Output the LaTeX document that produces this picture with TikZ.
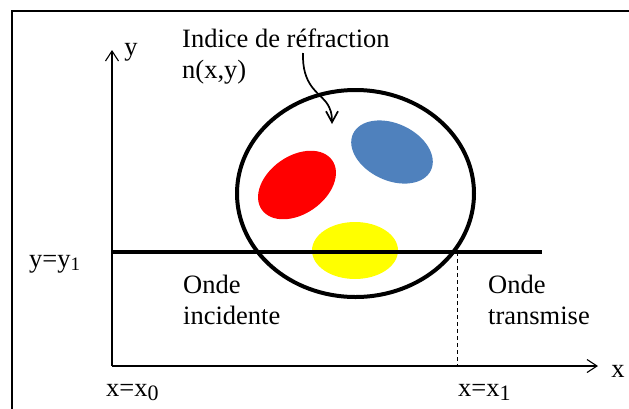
\documentclass[tikz,border=0pt]{standalone}
\usepackage{fontspec}
\setmainfont{Liberation Serif}
\usetikzlibrary{arrows.meta,shapes.geometric}
\definecolor{cred}{HTML}{FF0000}
\definecolor{cblue}{HTML}{4F81BD}
\definecolor{cyellow}{HTML}{FFFF00}
\tikzset{
  lbl/.style={inner sep=0pt, font=\fontsize{26.5}{31}\selectfont, align=left},
  axis/.style={-{Straight Barb[length=10pt, width=13pt]}, line width=1.1pt},
  blob/.style={draw=none, ellipse, inner sep=0pt},
  wave/.style={line width=4pt},
  curv/.style={-{Straight Barb[length=11pt, width=12pt]}, line width=1.7pt},
}
\newcommand{\lowidx}[1]{\raisebox{-0.3ex}{\fontsize{19}{19}\selectfont #1}}
\newcommand{\lowidxx}[1]{\raisebox{-0.4ex}{\fontsize{22}{22}\selectfont #1}}

\begin{document}
\begin{tikzpicture}[x=1pt, y=-1pt]
\clip (0,0) rectangle (629,408);
% frame
\draw[line width=1.8pt] (12,11) rectangle (660,440);

\coordinate (O) at (112,366);
\coordinate (ytip) at (112,50);
\coordinate (xtip) at (598,366);
\coordinate (w0) at (112,252);
\coordinate (w1) at (542,252);
\coordinate (x1top) at (457,252);
\coordinate (x1bot) at (457,366);

% inhomogeneities
\node[blob, fill=cred, minimum width=86pt, minimum height=58pt, rotate=35] (red) at (297,185) {};
\node[blob, fill=cblue, minimum width=86pt, minimum height=57pt, rotate=-25] (blue) at (392,152) {};
\node[blob, fill=cyellow, minimum width=86pt, minimum height=57pt] (yellow) at (355,250.5) {};
\node[draw, ellipse, line width=4pt, inner sep=0pt, minimum width=237pt, minimum height=207pt] (milieu) at (355.5,193.5) {};

% axes
\draw[axis] (O) -- (ytip);
\draw[axis] (O) -- (xtip);
\draw[wave] (w0) -- (w1);
\draw[dashed, line width=0.9pt, dash pattern=on 4pt off 3pt] (x1top) -- (x1bot);

\node[lbl] (ylab) at (131,52) {y};
\node[lbl] (xlab) at (618,371) {x};
\node[lbl, anchor=base west] (yone) at (29,267) {y=y\lowidx{1}};
\node[lbl, anchor=base west] (xzero) at (106,396) {x=x\lowidxx{0}};
\node[lbl, anchor=base west] (xone) at (458,396) {x=x\lowidxx{1}};

\node[lbl, anchor=base west] (idx) at (182,78) {Indice de réfraction\\n(x,y)};
\node[lbl, anchor=base west] (inc) at (183,324) {Onde\\incidente};
\node[lbl, anchor=base west] (trans) at (488,324) {Onde\\transmise};

% arrow to the medium
\coordinate (src) at (303,53);
\coordinate (dst) at (332,124);
\draw[curv] (src) .. controls (302,85) and (318,92) .. (326,102) .. controls (331,109) and (332,114) .. (dst);
\end{tikzpicture}
\end{document}
